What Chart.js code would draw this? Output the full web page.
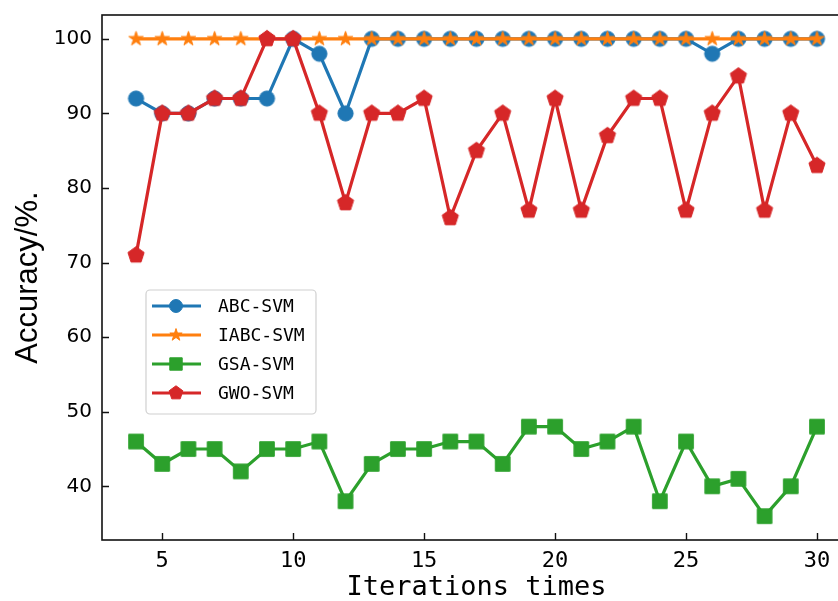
<!DOCTYPE html>
<html>
<head>
<meta charset="utf-8">
<script src="https://cdn.jsdelivr.net/npm/chart.js@4"></script>
<style>
html, body { margin: 0; padding: 0; background: #fff; overflow: hidden; }
#wrap { width: 859px; height: 601px; }
#myChart { display: block; width: 859px; height: 601px; }
</style>
</head>
<body>
<div id="wrap"><canvas id="myChart" width="859" height="601"></canvas></div>
<script>
var iterations = [4, 5, 6, 7, 8, 9, 10, 11, 12, 13, 14, 15, 16, 17, 18, 19, 20, 21, 22, 23, 24, 25, 26, 27, 28, 29, 30];
var abcSvm  = [92, 90, 90, 92, 92, 92, 100, 98, 90, 100, 100, 100, 100, 100, 100, 100, 100, 100, 100, 100, 100, 100, 98, 100, 100, 100, 100];
var iabcSvm = [100, 100, 100, 100, 100, 100, 100, 100, 100, 100, 100, 100, 100, 100, 100, 100, 100, 100, 100, 100, 100, 100, 100, 100, 100, 100, 100];
var gsaSvm  = [46, 43, 45, 45, 42, 45, 45, 46, 38, 43, 45, 45, 46, 46, 43, 48, 48, 45, 46, 48, 38, 46, 40, 41, 36, 40, 48];
var gwoSvm  = [71, 90, 90, 92, 92, 100, 100, 90, 78, 90, 90, 92, 76, 85, 90, 77, 92, 77, 87, 92, 92, 77, 90, 95, 77, 90, 83];
var seriesNames = ['ABC-SVM', 'IABC-SVM', 'GSA-SVM', 'GWO-SVM'];
var xTicks = [5, 10, 15, 20, 25, 30];
var yTicks = [40, 50, 60, 70, 80, 90, 100];

var blue = '#1f77b4', orange = '#ff7f0e', green = '#2ca02c', red = '#d62728';

// marker shapes (matplotlib style o, *, s, p)
function shapePath(g, shape, x, y, r) {
  g.beginPath();
  if (shape === 'star') {
    for (var i = 0; i < 10; i++) {
      var rr = i % 2 ? r * 0.382 : r;
      var a = -Math.PI / 2 + i * Math.PI / 5;
      g.lineTo(x + rr * Math.cos(a), y + rr * Math.sin(a));
    }
  } else if (shape === 'pentagon') {
    for (var j = 0; j < 5; j++) {
      var b = -Math.PI / 2 + j * 2 * Math.PI / 5;
      g.lineTo(x + r * Math.cos(b), y + r * Math.sin(b));
    }
  } else if (shape === 'square') {
    g.rect(x - r, y - r, 2 * r, 2 * r);
  } else {
    g.arc(x, y, r, 0, Math.PI * 2);
  }
  g.closePath();
}
function drawShape(g, shape, x, y, r, color) {
  shapePath(g, shape, x, y, r);
  g.fillStyle = color;
  g.fill();
  g.lineWidth = 1;
  g.strokeStyle = color;
  g.stroke();
}
function makeMarker(shape, color, r) {
  var c = document.createElement('canvas');
  var s = Math.ceil(r * 2 + 3);
  c.width = s; c.height = s;
  drawShape(c.getContext('2d'), shape, s / 2, s / 2, r, color);
  return c;
}

var styles = [
  { color: blue, shape: 'circle', r: 7.6 },
  { color: orange, shape: 'star', r: 7.6 },
  { color: green, shape: 'square', r: 7.3 },
  { color: red, shape: 'pentagon', r: 8.5 }
];
var values = [abcSvm, iabcSvm, gsaSvm, gwoSvm];

var datasets = values.map(function (vals, k) {
  var st = styles[k];
  return {
    label: seriesNames[k],
    data: iterations.map(function (x, i) { return { x: x, y: vals[i] }; }),
    borderColor: st.color,
    backgroundColor: st.color,
    borderWidth: 3.2,
    pointStyle: makeMarker(st.shape, st.color, st.r),
    pointRadius: 8,
    pointBorderWidth: 0,
    order: 3 - k,
    tension: 0
  };
});

function noPad(s) {
  s.paddingTop = 0; s.paddingBottom = 0; s.paddingLeft = 0; s.paddingRight = 0;
}

var framePlugin = {
  id: 'frame',
  afterDraw: function (chart) {
    var g = chart.ctx, a = chart.chartArea;
    var xs = chart.scales.x, ys = chart.scales.y;
    g.save();
    g.strokeStyle = '#111';
    g.lineWidth = 1.6;
    g.strokeRect(a.left, a.top, a.right - a.left, a.bottom - a.top);
    g.lineWidth = 1.4;
    g.beginPath();
    xTicks.forEach(function (v) {
      var px = Math.round(xs.getPixelForValue(v)) + 0.5;
      g.moveTo(px, a.bottom); g.lineTo(px, a.bottom - 7);
    });
    yTicks.forEach(function (v) {
      var py = Math.round(ys.getPixelForValue(v)) + 0.5;
      g.moveTo(a.left, py); g.lineTo(a.left + 7, py);
    });
    g.stroke();

    // legend box
    var bx = a.left + 44, by = a.top + 275, bw = 170, bh = 124;
    g.beginPath();
    g.roundRect(bx, by, bw, bh, 4);
    g.fillStyle = 'rgba(255,255,255,0.8)';
    g.fill();
    g.strokeStyle = '#d0d0d0';
    g.lineWidth = 1.2;
    g.stroke();
    g.font = '18px "DejaVu Sans Mono"';
    g.textBaseline = 'middle';
    g.textAlign = 'left';
    chart.data.datasets.forEach(function (ds, k) {
      var cy = by + 16 + k * 29;
      var st = styles[k];
      g.strokeStyle = st.color;
      g.lineWidth = 3;
      g.beginPath();
      g.moveTo(bx + 6, cy); g.lineTo(bx + 55, cy);
      g.stroke();
      drawShape(g, st.shape, bx + 30, cy, st.r * 0.85, st.color);
      g.fillStyle = '#000';
      g.fillText(ds.label, bx + 72, cy + 1);
    });
    g.restore();
  }
};

var ctx = document.getElementById('myChart').getContext('2d');
var chart = new Chart(ctx, {
  type: 'line',
  data: { datasets: datasets },
  options: {
    responsive: false,
    animation: false,
    events: [],
    layout: { padding: { top: 15, right: 2, left: 0, bottom: 0 } },
    plugins: { legend: { display: false }, tooltip: { enabled: false } },
    scales: {
      x: {
        type: 'linear',
        min: 2.7,
        max: 31.3,
        afterBuildTicks: function (s) { s.ticks = xTicks.map(function (v) { return { value: v }; }); },
        afterFit: function (s) { s.height = 61; noPad(s); },
        grid: { display: false, drawTicks: false },
        border: { display: false },
        ticks: { color: '#000', padding: 8, maxRotation: 0, font: { family: 'DejaVu Sans Mono', size: 22 } },
        title: {
          display: true,
          text: 'Iterations times',
          color: '#000',
          padding: 0,
          font: { family: 'DejaVu Sans Mono', size: 27, lineHeight: 1 }
        }
      },
      y: {
        type: 'linear',
        min: 32.8,
        max: 103.2,
        afterBuildTicks: function (s) { s.ticks = yTicks.map(function (v) { return { value: v }; }); },
        afterFit: function (s) { s.width = 102; noPad(s); },
        grid: { display: false, drawTicks: false },
        border: { display: false },
        ticks: { color: '#000', padding: 10, font: { family: 'DejaVu Sans', size: 20 } },
        title: {
          display: true,
          text: 'Accuracy/%.',
          color: '#000',
          padding: { top: 10, bottom: 0 },
          font: { family: 'Liberation Sans', size: 31, lineHeight: 1.2 }
        }
      }
    }
  },
  plugins: [framePlugin]
});
</script>
</body>
</html>
